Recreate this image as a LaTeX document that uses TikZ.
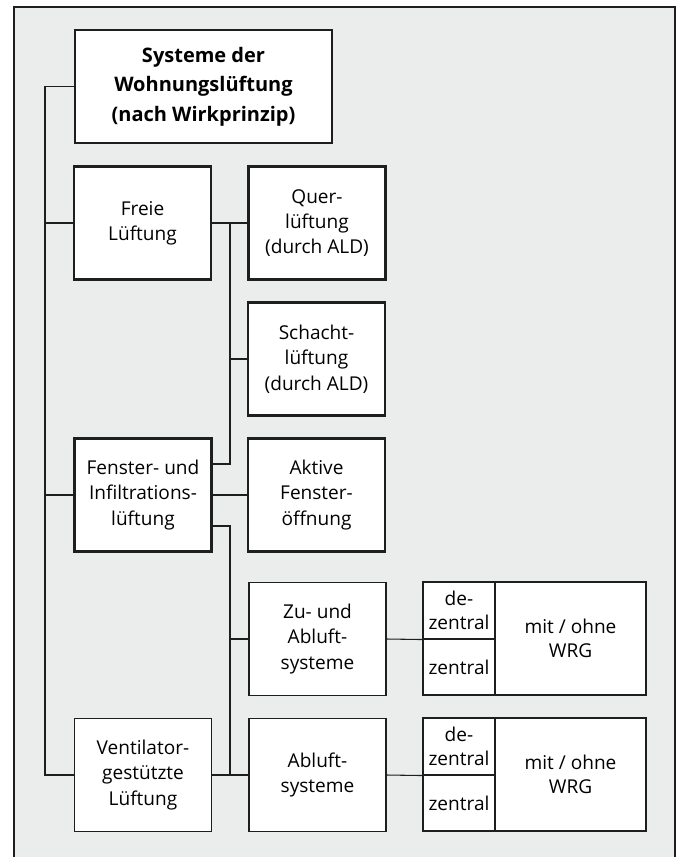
\documentclass[tikz,border=0pt]{standalone}
\usepackage{fontspec}
\setmainfont{Open Sans}
\usetikzlibrary{calc}
\definecolor{bg}{HTML}{EBECEC}
\definecolor{ln}{HTML}{1E1E1E}
\begin{document}
\begin{tikzpicture}[x=0.75pt,y=-0.75pt,
  bx/.style 2 args={minimum width=#1*0.75pt, minimum height=#2*0.75pt},
  tbox/.style={draw=ln, fill=white, line width=0.8pt, inner sep=0pt, align=center,
    font=\fontsize{14.3}{19}\selectfont, bx={137}{113}},
  kbox/.style={tbox, line width=2pt},
  cell/.style={tbox, font=\fontsize{14.3}{18}\selectfont},
  conn/.style={draw=ln, line width=0.8pt}]
\useasboundingbox (0,0) rectangle (680,857);
\fill[white] (0,0) rectangle (680,857);
\draw[fill=bg, draw=ln, line width=0.8pt] (14,7) rectangle (675,870);

\node[tbox, bx={257}{113}, font=\fontsize{15}{22}\selectfont\bfseries] (title) at (203.5,86.5)
  {Systeme der\\Wohnungslüftung\\(nach Wirkprinzip)};
\node[kbox] (freie) at (142.5,223) {Freie\\Lüftung};
\node[kbox] (quer) at (317,223) {Quer-\\lüftung\\(durch ALD)};
\node[kbox] (schacht) at (316.5,359) {Schacht-\\lüftung\\(durch ALD)};
\node[kbox] (fenster) at (143,495) {Fenster- und\\Infiltrations-\\lüftung};
\node[kbox] (aktive) at (316.5,495) {Aktive\\Fenster-\\öffnung};
\node[tbox] (zu) at (317.5,639) {Zu- und\\Abluft-\\systeme};
\node[tbox] (abl) at (317.5,775) {Abluft-\\systeme};
\node[tbox] (vent) at (143,775) {Ventilator-\\gestützte\\Lüftung};

\node[cell, bx={72}{57}] (dez1) at (459,610.5) {de-\\zentral};
\node[cell, bx={72}{56}] (zent1) at (459,667) {zentral};
\node[cell, bx={151}{113}] (wrg1) at (570.5,638.5) {mit / ohne\\WRG};
\node[cell, bx={72}{57}] (dez2) at (459,746.5) {de-\\zentral};
\node[cell, bx={72}{56}] (zent2) at (459,803) {zentral};
\node[cell, bx={151}{113}] (wrg2) at (570.5,774.5) {mit / ohne\\WRG};

\coordinate (tx) at (45,0);
\coordinate (jx) at (230,0);

\draw[conn] (title.west) -| (tx |- vent.west) -- (vent.west);
\draw[conn] (freie.west) -- (freie.west -| tx);
\draw[conn] (fenster.west) -- (fenster.west -| tx);

\draw[conn] (freie.east) -- (quer.west);
\draw[conn] ($(fenster.east)+(0,-31)$) -| (freie.east -| jx);
\draw[conn] (schacht.west) -- (schacht.west -| jx);
\draw[conn] (fenster.east) -- (aktive.west);
\draw[conn] ($(fenster.east)+(0,31)$) -| (vent.east -| jx);
\draw[conn] (vent.east) -- (abl.west);
\draw[conn] (zu.west) -- (zu.west -| jx);
\draw[conn] (zu.east) -- (dez1.south west);
\draw[conn] (abl.east) -- (dez2.south west);
\end{tikzpicture}
\end{document}
